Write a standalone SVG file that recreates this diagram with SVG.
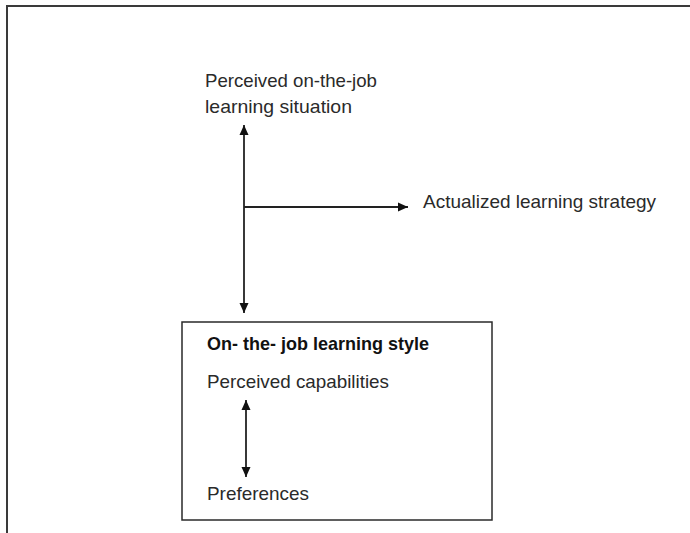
<svg xmlns="http://www.w3.org/2000/svg" width="690" height="533" viewBox="0 0 690 533">
  <defs>
    <marker id="head" viewBox="0 0 10 10" refX="10" refY="5" markerWidth="10" markerHeight="10" markerUnits="userSpaceOnUse" orient="auto-start-reverse">
      <path d="M0,0.5 L10,5 L0,9.5 Z" fill="#111"/>
    </marker>
    <style>
      .lbl { font-family: "Liberation Sans", Arial, sans-serif; font-size: 18.5px; fill: #2a2a2a; }
      .bold { font-weight: bold; fill: #111; }
      .frame { fill: none; stroke: #3a3a3a; stroke-width: 2; }
      .box { fill: #fff; stroke: #2a2a2a; stroke-width: 1.5; }
      .conn { fill: none; stroke: #222; stroke-width: 1.8; }
    </style>
  </defs>
  <rect width="690" height="533" fill="#fff"/>
  <!-- open outer frame: left and top edges only -->
  <path class="frame" d="M7,540 L7,6 L700,6"/>

  <g id="situation">
    <text class="lbl" x="205" y="87" textLength="172" lengthAdjust="spacingAndGlyphs">Perceived on-the-job</text>
    <text class="lbl" x="205" y="113" textLength="147" lengthAdjust="spacingAndGlyphs">learning situation</text>
  </g>

  <g id="strategy">
    <text class="lbl" x="423" y="208" textLength="233" lengthAdjust="spacingAndGlyphs">Actualized learning strategy</text>
  </g>

  <g id="style">
    <rect class="box" x="182" y="322" width="310" height="198"/>
    <text class="lbl bold" x="207" y="350" textLength="222" lengthAdjust="spacingAndGlyphs">On- the- job learning style</text>
    <text class="lbl" x="207" y="388" textLength="182" lengthAdjust="spacingAndGlyphs">Perceived capabilities</text>
    <text class="lbl" x="207" y="500" textLength="102" lengthAdjust="spacingAndGlyphs">Preferences</text>
  </g>

  <g id="connectors">
    <line class="conn" x1="244" y1="125" x2="244" y2="313" marker-start="url(#head)" marker-end="url(#head)"/>
    <line class="conn" x1="244" y1="207" x2="408" y2="207" marker-end="url(#head)"/>
    <line class="conn" x1="246" y1="400" x2="246" y2="477" marker-start="url(#head)" marker-end="url(#head)"/>
  </g>
</svg>
